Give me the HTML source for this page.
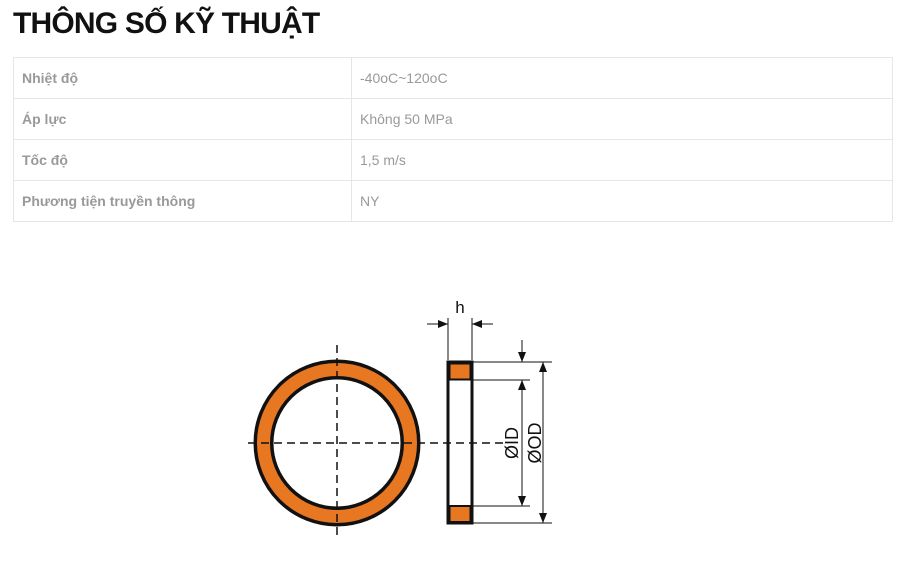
<!DOCTYPE html>
<html><head><meta charset="utf-8"><style>
body{margin:0;width:907px;height:569px;background:#fff;overflow:hidden;font-family:"Liberation Sans",sans-serif;}
h1{position:absolute;left:13px;top:7px;margin:0;font-size:30px;font-weight:bold;color:#111;letter-spacing:-0.8px;}
table{position:absolute;left:13px;top:57px;width:880px;border-collapse:collapse;}
td{border:1px solid #e6e6e6;height:40px;padding:0 0 0 8px;font-size:14px;color:#999;}
td.a{width:329px;font-weight:bold;}
svg{position:absolute;left:0;top:0;}
</style></head><body>
<h1>THÔNG SỐ KỸ THUẬT</h1>
<table>
<tr><td class="a">Nhiệt độ</td><td>-40oC~120oC</td></tr>
<tr><td class="a">Áp lực</td><td>Không 50 MPa</td></tr>
<tr><td class="a">Tốc độ</td><td>1,5 m/s</td></tr>
<tr><td class="a">Phương tiện truyền thông</td><td>NY</td></tr>
</table>
<svg width="907" height="569" viewBox="0 0 907 569">
<defs><marker id="ar" markerWidth="10" markerHeight="8" refX="10" refY="4" orient="auto" markerUnits="userSpaceOnUse"><path d="M0,0 L10,4 L0,8 z" fill="#111"/></marker></defs>
<circle cx="337" cy="443" r="73.5" fill="none" stroke="#111" stroke-width="20"/>
<circle cx="337" cy="443" r="73.5" fill="none" stroke="#e87722" stroke-width="13"/>
<rect x="448" y="362" width="24" height="161" fill="#fff" stroke="#111" stroke-width="3"/>
<rect x="449.5" y="363.5" width="21" height="16" fill="#e87722" stroke="#111" stroke-width="2"/>
<rect x="449.5" y="506" width="21" height="16" fill="#e87722" stroke="#111" stroke-width="2"/>
<g stroke="#111" stroke-width="1.5" stroke-dasharray="8,5" fill="none">
<line x1="248" y1="443" x2="505" y2="443"/>
<line x1="337" y1="345" x2="337" y2="540"/>
</g>
<g stroke="#111" stroke-width="1" fill="none">
<line x1="448" y1="318" x2="448" y2="360"/>
<line x1="472" y1="318" x2="472" y2="360"/>
<line x1="427" y1="324" x2="448" y2="324" marker-end="url(#ar)"/>
<line x1="493" y1="324" x2="472" y2="324" marker-end="url(#ar)"/>
<line x1="472" y1="362" x2="552" y2="362"/>
<line x1="472" y1="380" x2="530" y2="380"/>
<line x1="472" y1="506" x2="530" y2="506"/>
<line x1="472" y1="523" x2="552" y2="523"/>
<line x1="522" y1="340" x2="522" y2="362" marker-end="url(#ar)"/>
<line x1="522" y1="440" x2="522" y2="380" marker-end="url(#ar)"/>
<line x1="522" y1="440" x2="522" y2="506" marker-end="url(#ar)"/>
<line x1="543" y1="440" x2="543" y2="362" marker-end="url(#ar)"/>
<line x1="543" y1="440" x2="543" y2="523" marker-end="url(#ar)"/>
</g>
<text x="460" y="313" font-size="17" text-anchor="middle" fill="#111" font-family="Liberation Sans,sans-serif">h</text>
<text transform="translate(518,443) rotate(-90)" font-size="18" text-anchor="middle" fill="#111" font-family="Liberation Sans,sans-serif">ØID</text>
<text transform="translate(541,443) rotate(-90)" font-size="18" text-anchor="middle" fill="#111" font-family="Liberation Sans,sans-serif">ØOD</text>
</svg>
</body></html>
